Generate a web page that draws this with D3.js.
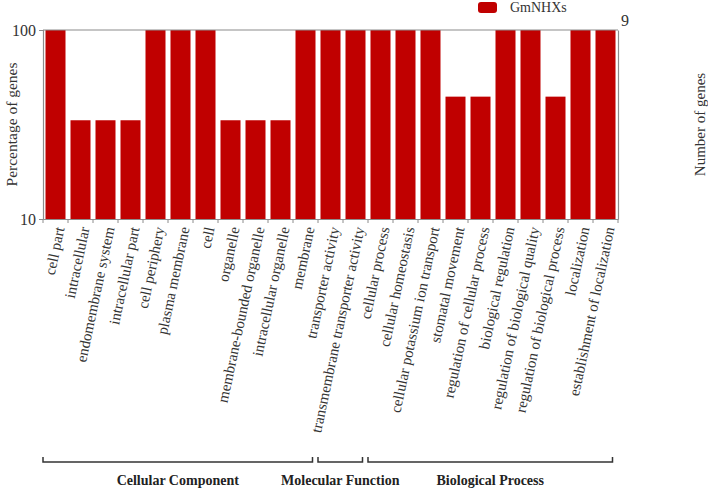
<!DOCTYPE html>
<html><head><meta charset="utf-8">
<script src="https://cdn.jsdelivr.net/npm/d3@7"></script>
<style>body{margin:0;background:#fff}svg{display:block}svg text{font-family:"Liberation Serif","Times New Roman",Times,serif !important}</style>
</head><body><svg id="c" width="708" height="494"></svg>
<script>
const categories = ["cell part","intracellular","endomembrane system","intracellular part","cell periphery","plasma membrane","cell","organelle","membrane-bounded organelle","intracellular organelle","membrane","transporter activity","transmembrane transporter activity","cellular process","cellular homeostasis","cellular potassium ion transport","stomatal movement","regulation of cellular process","biological regulation","regulation of biological quality","regulation of biological process","localization","establishment of localization"];
const percentages = [100,33.3,33.3,33.3,100,100,100,33.3,33.3,33.3,100,100,100,100,100,100,44.4,44.4,100,100,44.4,100,100];
const groups = [
  {name:"Cellular Component", first:"cell part", last:"membrane"},
  {name:"Molecular Function", first:"transporter activity", last:"transmembrane transporter activity"},
  {name:"Biological Process", first:"cellular process", last:"establishment of localization"}
];
const leftTicks = [10,100];
const rightTicks = [9];
const seriesName = "GmNHXs";

const svg = d3.select("#c");
const L=43, R=618, T=30, B=219;
const textCol = "#333";
const axisCol = "#8c8c8c";
const barCol = "#c00000";

const x = d3.scaleBand().domain(categories).range([L,R]).paddingInner(0.2).paddingOuter(0.1);
const y = d3.scaleLog().domain([10,100]).range([B,T]);
const y2 = d3.scaleLog().domain([0.9,9]).range([B,T]);

svg.append("g").selectAll("rect").data(categories).join("rect")
  .attr("x", d=>x(d)).attr("width", x.bandwidth())
  .attr("y", (d,i)=>y(percentages[i])).attr("height",(d,i)=>B-y(percentages[i]))
  .attr("fill", barCol);

svg.append("line").attr("x1",L).attr("x2",R).attr("y1",T).attr("y2",T).attr("stroke",axisCol).attr("stroke-width",1.2);

const ga = svg.append("g").attr("transform",`translate(${L},0)`)
  .call(d3.axisLeft(y).tickValues(leftTicks).tickFormat(d3.format("d")).tickSizeOuter(0).tickSize(4));
ga.select(".domain").attr("stroke",axisCol).attr("stroke-width",1.2);
ga.selectAll(".tick line").attr("stroke",axisCol);
ga.selectAll(".tick text").style("font-size","16px").attr("fill",textCol).attr("dx",0);

const gr = svg.append("g").attr("transform",`translate(${R},0)`)
  .call(d3.axisRight(y2).tickValues(rightTicks).tickFormat(d3.format("d")).tickSize(0).tickSizeOuter(0));
gr.select(".domain").attr("stroke",axisCol).attr("stroke-width",1.2);
gr.selectAll(".tick text").style("font-size","16px").attr("fill",textCol).attr("dx",0).attr("dy","-0.3em");

const gb = svg.append("g").attr("transform",`translate(0,${B})`)
  .call(d3.axisBottom(x).tickSize(0).tickSizeOuter(0));
gb.select(".domain").attr("stroke",axisCol).attr("stroke-width",1.2);
gb.selectAll(".tick text").remove();
const step = x.step();
gb.selectAll(".sep").data(categories).join("line").attr("class","sep")
  .attr("x1",d=>x(d)-step*x.paddingInner()/2).attr("x2",d=>x(d)-step*x.paddingInner()/2)
  .attr("y1",0).attr("y2",4).attr("stroke",axisCol);
gb.append("line").attr("x1",R).attr("x2",R).attr("y1",0).attr("y2",4).attr("stroke",axisCol);

svg.append("g").selectAll("text").data(categories).join("text")
  .attr("transform", d=>`translate(${x(d)+x.bandwidth()/2+4},${B+8}) rotate(-78)`)
  .attr("text-anchor","end").attr("dy","0.35em")
  .style("font-size","15px").attr("fill",textCol)
  .text(d=>d);

svg.append("text").attr("transform",`translate(12,${(T+B)/2}) rotate(-90)`)
  .attr("text-anchor","middle").attr("dy","0.35em").style("font-size","15.5px").attr("fill",textCol)
  .text("Percentage of genes");
svg.append("text").attr("transform",`translate(700,${(T+B)/2}) rotate(-90)`)
  .attr("text-anchor","middle").attr("dy","0.35em").style("font-size","15px").attr("fill",textCol)
  .text("Number of genes");

const by = 462;
const gg = svg.append("g");
groups.forEach(g=>{
  const xs = g.first===categories[0] ? L : x(g.first) - step*x.paddingInner()/2;
  const x1 = x(g.last) + x.bandwidth() - 3;
  gg.append("path").attr("d",`M${xs},${by-5}V${by}H${x1}V${by-5}`)
    .attr("fill","none").attr("stroke","#333").attr("stroke-width",1.5);
  gg.append("text").attr("x",(xs+x1)/2).attr("y",by+23).attr("text-anchor","middle")
    .style("font-size","14px").attr("font-weight","bold").attr("fill","#222")
    .text(g.name);
});

svg.append("rect").attr("x",478).attr("y",2).attr("width",19).attr("height",11).attr("rx",3).attr("fill",barCol);
svg.append("text").attr("x",510).attr("y",12).style("font-size","14px").attr("fill",textCol).text(seriesName);
</script></body></html>
